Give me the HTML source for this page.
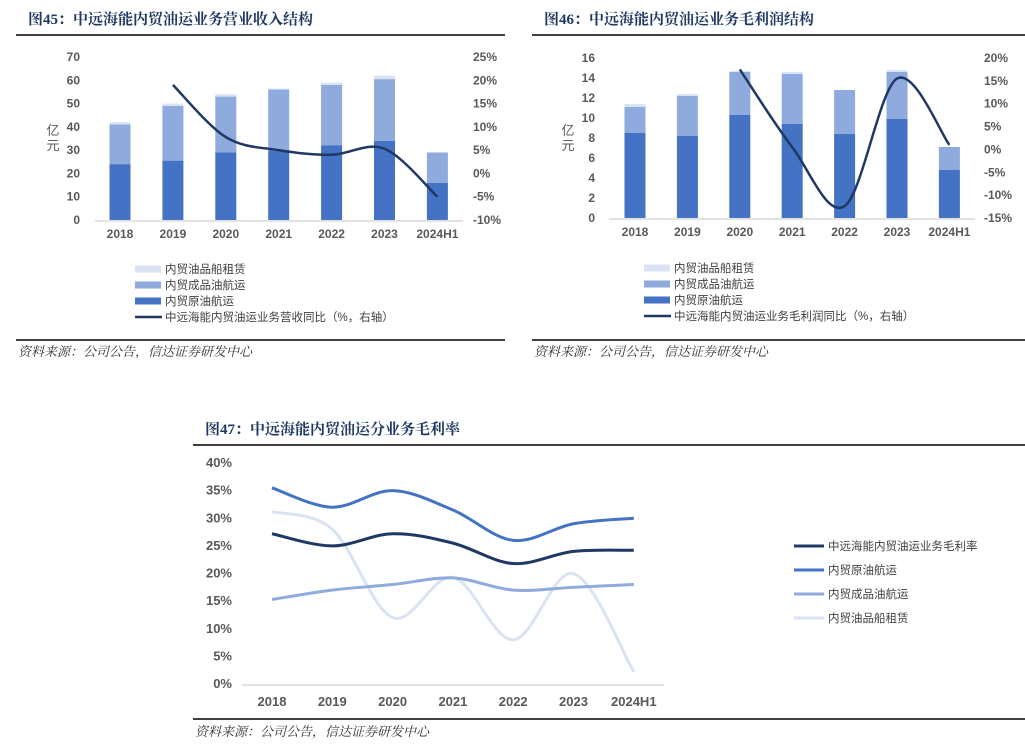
<!DOCTYPE html>
<html><head><meta charset="utf-8">
<style>
body{margin:0;background:#fff;width:1025px;height:749px;overflow:hidden;font-family:"Liberation Sans","Noto Sans CJK SC",sans-serif;}
svg{position:absolute;left:0;top:0}
.title{font-family:"Liberation Serif","Noto Serif CJK SC",serif;font-weight:bold;font-size:15px;fill:#1f3864}
.tick{font-size:12px;font-weight:bold;fill:#595959}
.tick3{font-size:13px;font-weight:bold;fill:#595959}
.leg{font-size:11.5px;fill:#404040}
.src{font-family:"Liberation Serif","Noto Serif CJK SC",serif;font-style:italic;font-size:13px;fill:#333}
</style></head><body>
<svg id="s" width="1025" height="749" xmlns="http://www.w3.org/2000/svg"></svg>
<script>
// ===== Chart 45 data =====
const cats = ["2018","2019","2020","2021","2022","2023","2024H1"];
const revCrude = [24,25.5,29,30,32,34,16];
const revProduct = [17,23.5,24,26,26,26.5,13];
const revRental = [1,1,1,0.5,1,1.5,0];
const revYoY = [null,19,7.8,5,4,5.3,-5];
const revLeftTicks = [0,10,20,30,40,50,60,70];
const revRightTicks = [-10,-5,0,5,10,15,20,25];
// ===== Chart 46 data =====
const gpCrude = [8.5,8.2,10.3,9.4,8.4,9.9,4.8];
const gpProduct = [2.6,4.0,4.3,5.0,4.4,4.7,2.3];
const gpRental = [0.3,0.2,0.1,0.2,0,0.2,0];
const gpYoY = [null,null,17.5,0.5,-12.4,15.5,1];
const gpLeftTicks = [0,2,4,6,8,10,12,14,16];
const gpRightTicks = [-15,-10,-5,0,5,10,15,20];
// ===== Chart 47 data =====
const mTotal = [27.2,25,27.2,25.5,21.8,24,24.2];
const mCrude = [35.5,32,35,31.5,26,29,30];
const mProduct = [15.3,17,18,19.2,17,17.5,18];
const mRental = [31.2,28,12,19.3,8,20,2.2];
const mTicks = [0,5,10,15,20,25,30,35,40];

const C_DARK="#1f3864",C_CRUDE="#4472c4",C_PROD="#8faadc",C_RENT="#dae3f3";
const svg=document.getElementById('s');
const NS="http://www.w3.org/2000/svg";
function el(tag,attrs,parent){const e=document.createElementNS(NS,tag);for(const k in attrs)e.setAttribute(k,attrs[k]);(parent||svg).appendChild(e);return e;}
function txt(x,y,s,cls,anchor,parent){const t=el('text',{x:x,y:y,class:cls,'text-anchor':anchor||'start'},parent);t.textContent=s;return t;}
function smooth(pts){let d="M"+pts[0][0]+","+pts[0][1];for(let i=0;i<pts.length-1;i++){const p0=pts[i-1]||pts[i],p1=pts[i],p2=pts[i+1],p3=pts[i+2]||p2;const c1x=p1[0]+(p2[0]-p0[0])/6,c1y=p1[1]+(p2[1]-p0[1])/6,c2x=p2[0]-(p3[0]-p1[0])/6,c2y=p2[1]-(p3[1]-p1[1])/6;d+=` C${c1x},${c1y} ${c2x},${c2y} ${p2[0]},${p2[1]}`;}return d;}

function header(x1,x2,ty,title,ly,sy){
  const t=txt(x1+12,ty,title,'title');
  
  
  const l=el('line',{x1:x1,x2:x2,y1:ty+11,y2:ty+11,stroke:'#404040','stroke-width':2});
  
  
  const l2=el('line',{x1:x1,x2:x2,y1:ly,y2:ly,stroke:'#404040','stroke-width':2});
  
  
  const s=txt(x1+2,sy,'资料来源：公司公告，信达证券研发中心','src');
  
  
}

function barChart(o){
  const g=el('g',{});
  
  
  const yL=v=>o.y0-(v-o.lmin)/(o.lmax-o.lmin)*(o.y0-o.y1);
  const yR=v=>o.y0-(v-o.rmin)/(o.rmax-o.rmin)*(o.y0-o.y1);
  const xC=i=>o.x0+o.step*i;
  o.lticks.forEach(v=>{const t=txt(o.lx,yL(v)+4,String(v),'tick','end',g);});
  o.rticks.forEach(v=>{const t=txt(o.rx,yR(v)+4,v+'%','tick','start',g);});
  const yt=el('text',{x:o.ytx,y:o.y0-(o.y0-o.y1)*0.52,class:'tick','text-anchor':'middle'},g);
  
  
  yt.setAttribute('style','font-size:13px;font-weight:normal;fill:#595959');
  const a=el('tspan',{x:o.ytx,dy:0},yt);a.textContent='亿';
  const b=el('tspan',{x:o.ytx,dy:15},yt);b.textContent='元';
  const ax=el('line',{x1:o.ax1,x2:o.ax2,y1:o.y0+1,y2:o.y0+1,stroke:'#d9d9d9','stroke-width':1.5},g);
  
  
  cats.forEach((c,i)=>{
    const t=txt(xC(i),o.y0+18,c,'tick','middle',g);
    
    
    let base=0;
    [[o.s1,C_CRUDE,'bar-crude'],[o.s2,C_PROD,'bar-product'],[o.s3,C_RENT,'bar-rental']].forEach(([arr,col,nm])=>{
      const v=arr[i];if(!v)return;
      const r=el('rect',{x:xC(i)-10.5,y:yL(base+v),width:21,height:yL(base)-yL(base+v),fill:col},g);
      
      
      base+=v;
    });
  });
  const pts=[];o.line.forEach((v,i)=>{if(v!==null)pts.push([xC(i),yR(v)]);});
  const p=el('path',{d:smooth(pts),fill:'none',stroke:C_DARK,'stroke-width':2.5},g);
  
  
  const items=[[C_RENT,'内贸油品船租赁','rect'],[C_PROD,'内贸成品油航运','rect'],[C_CRUDE,'内贸原油航运','rect'],[C_DARK,o.lineLabel,'line']];
  items.forEach((it,k)=>{
    const y=o.legY+k*16;
    const sw=it[2]==='rect'?el('rect',{x:o.legX,y:y-3.5,width:26,height:7,fill:it[0]},g):el('line',{x1:o.legX,x2:o.legX+27,y1:y,y2:y,stroke:it[0],'stroke-width':2.5},g);
    
    
    const t=txt(o.legX+30,y+4,it[1],'leg','start',g);
    
    
  });
}

header(16,505,24,'图45：中远海能内贸油运业务营业收入结构',340,356);
barChart({name:'revenue-chart',y0:220,y1:57,lmin:0,lmax:70,rmin:-10,rmax:25,x0:120,step:52.9,lx:80,rx:473,ytx:53,ax1:95,ax2:463,
  s1:revCrude,s2:revProduct,s3:revRental,line:revYoY,lticks:revLeftTicks,rticks:revRightTicks,legX:135,legY:269,lineLabel:'中远海能内贸油运业务营收同比（%，右轴）'});

header(532,1025,24,'图46：中远海能内贸油运业务毛利润结构',340,356);
barChart({name:'gross-profit-chart',y0:218,y1:58,lmin:0,lmax:16,rmin:-15,rmax:20,x0:635,step:52.4,lx:595,rx:984,ytx:568,ax1:609,ax2:975,
  s1:gpCrude,s2:gpProduct,s3:gpRental,line:gpYoY,lticks:gpLeftTicks,rticks:gpRightTicks,legX:644,legY:268,lineLabel:'中远海能内贸油运业务毛利润同比（%，右轴）'});

// Chart 47
header(193,1025,434,'图47：中远海能内贸油运分业务毛利率',719,736);
(function(){
  const g=el('g',{});
  
  
  const y0=684,y1=463,x0=272,step=60.3;
  const yS=v=>y0-v/40*(y0-y1);
  const xC=i=>x0+step*i;
  mTicks.forEach(v=>{const t=txt(232,yS(v)+4,v+'%','tick3','end',g);});
  const ax=el('line',{x1:242,x2:664,y1:y0+1,y2:y0+1,stroke:'#d9d9d9','stroke-width':1.5},g);
  
  
  cats.forEach((c,i)=>{const t=txt(xC(i),y0+22,c,'tick3','middle',g);});
  const series=[[mRental,C_RENT,'内贸油品船租赁','line-rental'],[mProduct,C_PROD,'内贸成品油航运','line-product'],[mTotal,C_DARK,'中远海能内贸油运业务毛利率','line-total'],[mCrude,C_CRUDE,'内贸原油航运','line-crude']];
  series.forEach(s=>{
    const p=el('path',{d:smooth(s[0].map((v,i)=>[xC(i),yS(v)])),fill:'none',stroke:s[1],'stroke-width':3},g);
    
    
  });
  const leg=[[C_DARK,'中远海能内贸油运业务毛利率'],[C_CRUDE,'内贸原油航运'],[C_PROD,'内贸成品油航运'],[C_RENT,'内贸油品船租赁']];
  leg.forEach((l,k)=>{
    const y=546+k*24;
    const sw=el('line',{x1:794,x2:824,y1:y,y2:y,stroke:l[0],'stroke-width':3},g);
    
    
    const t=txt(828,y+4,l[1],'leg','start',g);
    
    
  });
})();
</script>
</body></html>
